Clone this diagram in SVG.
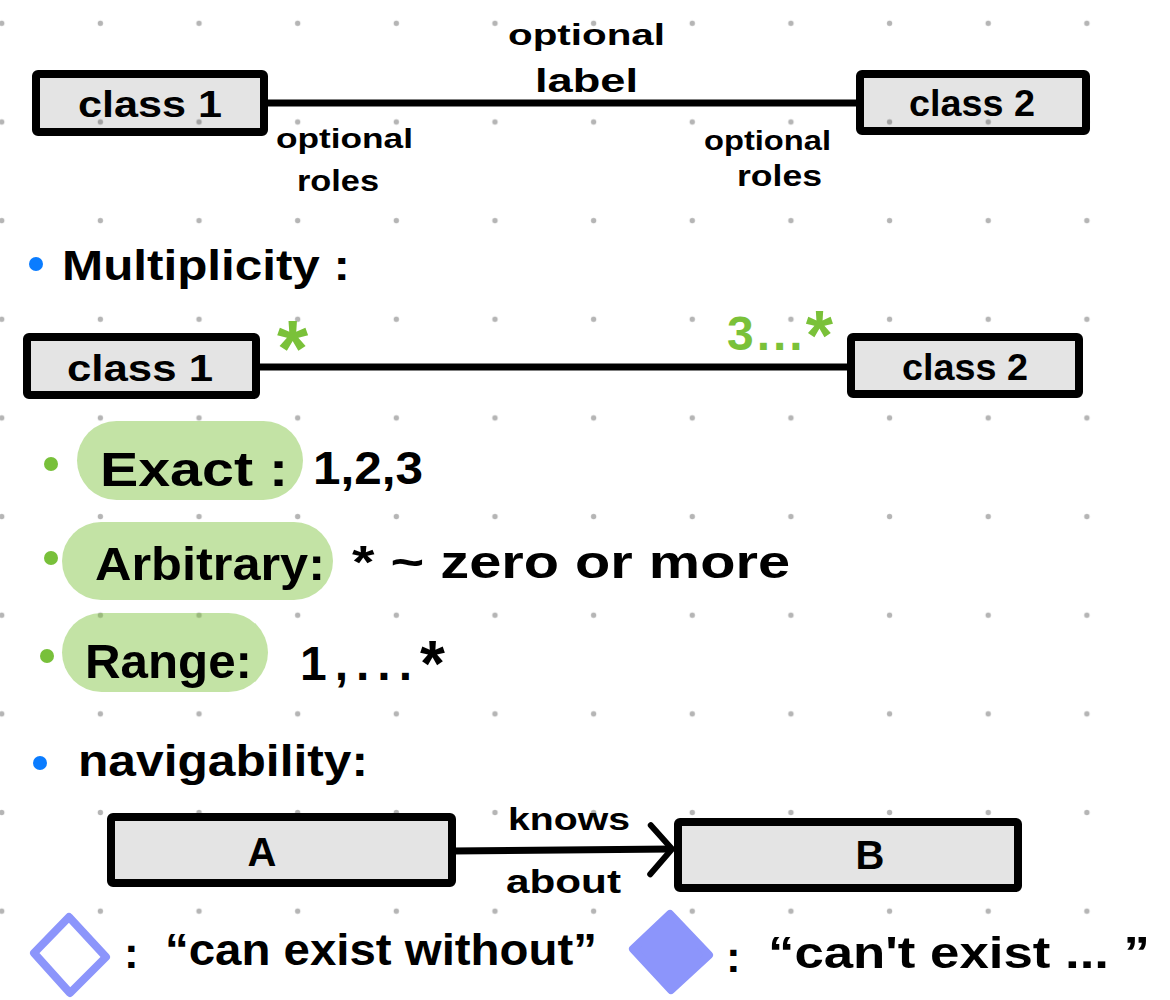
<svg xmlns="http://www.w3.org/2000/svg" width="1170" height="1000" viewBox="0 0 1170 1000">
  <defs>
    <pattern id="dots" patternUnits="userSpaceOnUse" x="-47.6" y="-26" width="98.65" height="98.65">
      <circle cx="49.33" cy="49.33" r="2.7" fill="#b5b5b5"/>
    </pattern>
    <marker id="open" markerUnits="userSpaceOnUse" viewBox="-28 -30 32 60" markerWidth="32" markerHeight="60" refX="0" refY="0" orient="auto">
      <path d="M-21,-24 L0,0 L-22,25" fill="none" stroke="#000" stroke-width="6" stroke-linecap="round" stroke-linejoin="round"/>
    </marker>
    <style>
      .t { font-family: "Liberation Sans", Arial, sans-serif; font-weight: 700; fill: #000; }
      .g { font-family: "Liberation Sans", Arial, sans-serif; font-weight: 700; fill: #7ac139; }
      .box { fill: #000; fill-opacity: 0.105; stroke: #000; stroke-width: 8; stroke-linejoin: round; }
      .pill { fill: #7ac038; fill-opacity: 0.45; }
      .conn { stroke: #000; stroke-width: 7; fill: none; }
      .gb { fill: #78c03a; }
      .bb { fill: #0a7cff; }
      .dia { stroke: #8c95fb; stroke-width: 8; stroke-linejoin: round; }
    </style>
  </defs>

  <rect width="1170" height="1000" fill="#fff"/>
  <rect width="1170" height="1000" fill="url(#dots)"/>

  <!-- top association -->
  <g id="top-class1">
    <rect class="box" x="36" y="74" width="228" height="58" rx="2"/>
    <text class="t" x="78" y="117" font-size="36" textLength="144" lengthAdjust="spacingAndGlyphs">class 1</text>
  </g>
  <g id="top-class2">
    <rect class="box" x="860" y="74" width="226" height="57" rx="2"/>
    <text class="t" x="909" y="116" font-size="36" textLength="126" lengthAdjust="spacingAndGlyphs">class 2</text>
  </g>

  <!-- multiplicity association -->
  <g id="mid-class1">
    <rect class="box" x="27" y="337" width="229" height="58" rx="2"/>
    <text class="t" x="67" y="381" font-size="36" textLength="146" lengthAdjust="spacingAndGlyphs">class 1</text>
  </g>
  <g id="mid-class2">
    <rect class="box" x="851" y="337" width="228" height="57" rx="2"/>
    <text class="t" x="902" y="380" font-size="36" textLength="126" lengthAdjust="spacingAndGlyphs">class 2</text>
  </g>

  <!-- navigability -->
  <g id="node-A">
    <rect class="box" x="111" y="817" width="341" height="66" rx="2"/>
    <text class="t" x="262" y="866" font-size="40" text-anchor="middle">A</text>
  </g>
  <g id="node-B">
    <rect class="box" x="678" y="822" width="340" height="66" rx="2"/>
    <text class="t" x="870" y="869" font-size="40" text-anchor="middle">B</text>
  </g>

  <g id="connectors">
    <line class="conn" x1="264" y1="103" x2="860" y2="103"/>
    <line class="conn" x1="256" y1="367" x2="851" y2="367"/>
    <line class="conn" x1="452" y1="851" x2="672" y2="849" marker-end="url(#open)"/>
  </g>

  <g id="top-labels">
    <text class="t" x="508" y="45" font-size="30" textLength="157" lengthAdjust="spacingAndGlyphs">optional</text>
    <text class="t" x="535" y="92" font-size="34" textLength="103" lengthAdjust="spacingAndGlyphs">label</text>
    <text class="t" x="276" y="148" font-size="28" textLength="137" lengthAdjust="spacingAndGlyphs">optional</text>
    <text class="t" x="297" y="191" font-size="30" textLength="82" lengthAdjust="spacingAndGlyphs">roles</text>
    <text class="t" x="704" y="150" font-size="28" textLength="127" lengthAdjust="spacingAndGlyphs">optional</text>
    <text class="t" x="737" y="186" font-size="30" textLength="85" lengthAdjust="spacingAndGlyphs">roles</text>
  </g>

  <g id="multiplicity-heading">
    <circle class="bb" cx="36" cy="264" r="7"/>
    <text class="t" x="62" y="280" font-size="42" textLength="288" lengthAdjust="spacingAndGlyphs">Multiplicity :</text>
  </g>

  <g id="multiplicity-labels">
    <text class="g" x="277" y="376" font-size="80">*</text>
    <text class="g" x="727" y="350" font-size="48" letter-spacing="3">3...<tspan font-size="70" dy="10">*</tspan></text>
  </g>

  <g id="item-exact">
    <circle class="gb" cx="51" cy="464" r="7"/>
    <rect class="pill" x="77" y="421" width="226" height="79" rx="39.5"/>
    <text class="t" x="100" y="486" font-size="48" textLength="188" lengthAdjust="spacingAndGlyphs">Exact :</text>
    <text class="t" x="313" y="484" font-size="46" textLength="110" lengthAdjust="spacingAndGlyphs">1,2,3</text>
  </g>
  <g id="item-arbitrary">
    <circle class="gb" cx="51" cy="558" r="7"/>
    <rect class="pill" x="62" y="522" width="271" height="78" rx="39"/>
    <text class="t" x="95" y="580" font-size="46" textLength="230" lengthAdjust="spacingAndGlyphs">Arbitrary:</text>
    <text class="t" x="352" y="578" font-size="46" textLength="438" lengthAdjust="spacingAndGlyphs">* ~ zero or more</text>
  </g>
  <g id="item-range">
    <circle class="gb" cx="47" cy="656" r="7"/>
    <rect class="pill" x="62" y="613" width="206" height="79" rx="39.5"/>
    <text class="t" x="85" y="678" font-size="48" textLength="167" lengthAdjust="spacingAndGlyphs">Range:</text>
    <text class="t" x="300" y="680" font-size="48" letter-spacing="8">1,...<tspan font-size="64" dy="6">*</tspan></text>
  </g>

  <g id="navigability-heading">
    <circle class="bb" cx="40" cy="763" r="7"/>
    <text class="t" x="78" y="776" font-size="44" textLength="290" lengthAdjust="spacingAndGlyphs">navigability:</text>
  </g>

  <g id="nav-labels">
    <text class="t" x="508" y="830" font-size="32" textLength="122" lengthAdjust="spacingAndGlyphs">knows</text>
    <text class="t" x="506" y="893" font-size="34" textLength="115" lengthAdjust="spacingAndGlyphs">about</text>
  </g>

  <g id="legend-hollow">
    <polygon class="dia" points="69,917 106,957 70,993 34,953" fill="none"/>
    <text class="t" x="124" y="968" font-size="44">:</text>
    <text class="t" x="165" y="965" font-size="44" textLength="432" lengthAdjust="spacingAndGlyphs">“can exist without”</text>
  </g>
  <g id="legend-filled">
    <polygon class="dia" points="670,914 709,955 671,990 633,949" fill="#8c95fb"/>
    <text class="t" x="726" y="972" font-size="44">:</text>
    <text class="t" x="768" y="968" font-size="44" textLength="382" lengthAdjust="spacingAndGlyphs">“can't exist ... ”</text>
  </g>
</svg>
